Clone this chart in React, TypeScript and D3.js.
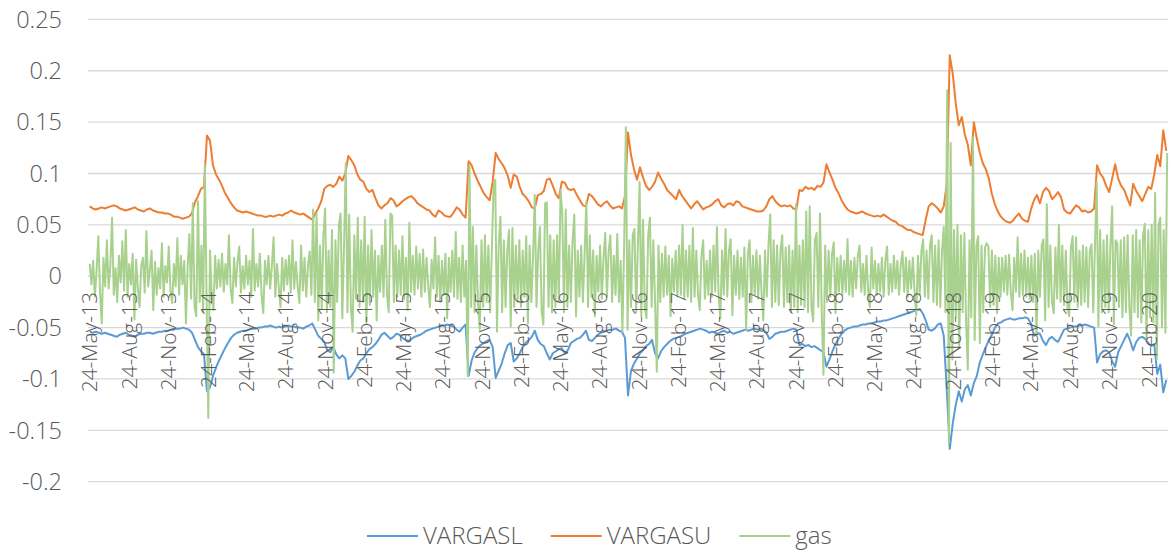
import { useEffect, useRef } from 'react';
import * as d3 from 'd3';

// weekly VaR bands and 4-day sampled gas returns, starting 24-May-13
const seriesStart = '2013-05-24';
const varStepDays = 7;
const gasStepDays = 4;

const xTickLabels = [
  '24-May-13', '24-Aug-13', '24-Nov-13', '24-Feb-14', '24-May-14', '24-Aug-14', '24-Nov-14',
  '24-Feb-15', '24-May-15', '24-Aug-15', '24-Nov-15', '24-Feb-16', '24-May-16', '24-Aug-16',
  '24-Nov-16', '24-Feb-17', '24-May-17', '24-Aug-17', '24-Nov-17', '24-Feb-18', '24-May-18',
  '24-Aug-18', '24-Nov-18', '24-Feb-19', '24-May-19', '24-Aug-19', '24-Nov-19', '24-Feb-20',
];
const yTicks = [-0.2, -0.15, -0.1, -0.05, 0, 0.05, 0.1, 0.15, 0.2, 0.25];

const vargasl = [
  -0.054, -0.055, -0.054, -0.055, -0.056, -0.055, -0.056, -0.057, -0.058, -0.059,
  -0.057, -0.056, -0.055, -0.057, -0.058, -0.059, -0.057, -0.056, -0.056, -0.055,
  -0.055, -0.056, -0.055, -0.054, -0.054, -0.053, -0.053, -0.052, -0.052, -0.051,
  -0.051, -0.050, -0.051, -0.052, -0.055, -0.062, -0.069, -0.073, -0.076, -0.112,
  -0.108, -0.097, -0.089, -0.082, -0.076, -0.070, -0.065, -0.060, -0.057, -0.055,
  -0.054, -0.053, -0.053, -0.052, -0.051, -0.051, -0.050, -0.050, -0.049, -0.049,
  -0.048, -0.049, -0.050, -0.049, -0.050, -0.049, -0.048, -0.049, -0.049, -0.050,
  -0.050, -0.051, -0.049, -0.048, -0.046, -0.052, -0.058, -0.061, -0.064, -0.072,
  -0.074, -0.069, -0.076, -0.080, -0.077, -0.080, -0.100, -0.097, -0.093, -0.087,
  -0.082, -0.080, -0.075, -0.071, -0.069, -0.066, -0.062, -0.057, -0.055, -0.058,
  -0.061, -0.059, -0.056, -0.057, -0.060, -0.062, -0.063, -0.061, -0.059, -0.058,
  -0.057, -0.055, -0.053, -0.052, -0.051, -0.050, -0.049, -0.048, -0.048, -0.047,
  -0.048, -0.049, -0.052, -0.054, -0.050, -0.047, -0.097, -0.082, -0.074, -0.070,
  -0.067, -0.065, -0.063, -0.062, -0.069, -0.099, -0.092, -0.085, -0.075, -0.067,
  -0.065, -0.083, -0.080, -0.075, -0.069, -0.065, -0.062, -0.059, -0.053, -0.062,
  -0.066, -0.068, -0.075, -0.081, -0.075, -0.073, -0.071, -0.070, -0.075, -0.072,
  -0.065, -0.063, -0.061, -0.060, -0.057, -0.053, -0.062, -0.063, -0.060, -0.057,
  -0.055, -0.054, -0.053, -0.052, -0.052, -0.051, -0.053, -0.054, -0.060, -0.116,
  -0.092, -0.085, -0.080, -0.075, -0.072, -0.068, -0.066, -0.062, -0.075, -0.080,
  -0.073, -0.069, -0.066, -0.063, -0.061, -0.060, -0.059, -0.058, -0.056, -0.055,
  -0.054, -0.053, -0.052, -0.051, -0.052, -0.053, -0.055, -0.054, -0.055, -0.056,
  -0.054, -0.053, -0.055, -0.054, -0.056, -0.055, -0.054, -0.053, -0.052, -0.053,
  -0.052, -0.051, -0.052, -0.051, -0.052, -0.055, -0.061, -0.059, -0.056, -0.055,
  -0.054, -0.054, -0.053, -0.052, -0.051, -0.052, -0.067, -0.066, -0.068, -0.067,
  -0.069, -0.068, -0.070, -0.072, -0.074, -0.088, -0.081, -0.073, -0.066, -0.061,
  -0.056, -0.053, -0.051, -0.050, -0.049, -0.049, -0.048, -0.047, -0.047, -0.046,
  -0.046, -0.045, -0.044, -0.044, -0.043, -0.043, -0.042, -0.041, -0.040, -0.039,
  -0.038, -0.037, -0.036, -0.035, -0.034, -0.033, -0.032, -0.036, -0.043, -0.052,
  -0.053, -0.051, -0.047, -0.046, -0.058, -0.110, -0.168, -0.143, -0.125, -0.112,
  -0.122, -0.110, -0.106, -0.116, -0.104, -0.097, -0.084, -0.076, -0.069, -0.062,
  -0.057, -0.050, -0.046, -0.045, -0.043, -0.042, -0.041, -0.042, -0.042, -0.041,
  -0.041, -0.040, -0.041, -0.046, -0.058, -0.055, -0.056, -0.063, -0.067, -0.061,
  -0.059, -0.062, -0.064, -0.058, -0.052, -0.051, -0.050, -0.049, -0.049, -0.048,
  -0.048, -0.047, -0.048, -0.049, -0.050, -0.084, -0.076, -0.073, -0.072, -0.074,
  -0.083, -0.088, -0.074, -0.068, -0.062, -0.056, -0.063, -0.072, -0.064, -0.060,
  -0.059, -0.061, -0.065, -0.068, -0.066, -0.095, -0.086, -0.113, -0.101,
];

const vargasu = [
  0.068, 0.066, 0.065, 0.066, 0.067, 0.066, 0.067, 0.068, 0.069, 0.068,
  0.066, 0.065, 0.064, 0.065, 0.066, 0.067, 0.065, 0.064, 0.063, 0.065,
  0.066, 0.064, 0.063, 0.062, 0.062, 0.061, 0.061, 0.060, 0.058, 0.058,
  0.057, 0.056, 0.057, 0.058, 0.061, 0.072, 0.078, 0.085, 0.087, 0.137,
  0.132, 0.108, 0.099, 0.094, 0.088, 0.081, 0.076, 0.071, 0.067, 0.064,
  0.063, 0.062, 0.063, 0.062, 0.061, 0.060, 0.059, 0.059, 0.058, 0.058,
  0.059, 0.058, 0.059, 0.060, 0.059, 0.061, 0.062, 0.064, 0.062, 0.061,
  0.060, 0.061, 0.059, 0.057, 0.055, 0.061, 0.066, 0.073, 0.085, 0.088,
  0.089, 0.087, 0.090, 0.097, 0.093, 0.100, 0.117, 0.113, 0.108, 0.099,
  0.094, 0.092, 0.085, 0.082, 0.084, 0.076, 0.069, 0.066, 0.069, 0.071,
  0.076, 0.074, 0.068, 0.070, 0.073, 0.075, 0.077, 0.078, 0.075, 0.071,
  0.069, 0.067, 0.065, 0.064, 0.060, 0.058, 0.064, 0.062, 0.059, 0.058,
  0.058, 0.062, 0.067, 0.065, 0.060, 0.057, 0.112, 0.108, 0.100, 0.093,
  0.087, 0.081, 0.077, 0.074, 0.092, 0.120, 0.114, 0.110, 0.105, 0.098,
  0.086, 0.099, 0.097, 0.087, 0.080, 0.077, 0.073, 0.067, 0.066, 0.079,
  0.080, 0.083, 0.094, 0.095, 0.088, 0.080, 0.076, 0.092, 0.091, 0.085,
  0.084, 0.085, 0.079, 0.074, 0.069, 0.068, 0.080, 0.078, 0.074, 0.070,
  0.068, 0.071, 0.073, 0.069, 0.066, 0.067, 0.068, 0.066, 0.078, 0.140,
  0.118, 0.104, 0.094, 0.106, 0.096, 0.088, 0.084, 0.087, 0.092, 0.101,
  0.095, 0.090, 0.084, 0.081, 0.078, 0.075, 0.084, 0.078, 0.074, 0.070,
  0.066, 0.070, 0.073, 0.069, 0.065, 0.067, 0.068, 0.070, 0.073, 0.075,
  0.069, 0.067, 0.070, 0.071, 0.069, 0.073, 0.072, 0.068, 0.067, 0.066,
  0.065, 0.064, 0.063, 0.063, 0.064, 0.068, 0.075, 0.078, 0.073, 0.070,
  0.068, 0.069, 0.068, 0.069, 0.066, 0.065, 0.084, 0.083, 0.087, 0.085,
  0.086, 0.084, 0.088, 0.087, 0.091, 0.109, 0.101, 0.094, 0.086, 0.081,
  0.074, 0.069, 0.065, 0.063, 0.062, 0.061, 0.062, 0.063, 0.061, 0.060,
  0.059, 0.058, 0.059, 0.058, 0.060, 0.058, 0.056, 0.054, 0.053, 0.050,
  0.049, 0.047, 0.045, 0.045, 0.043, 0.042, 0.041, 0.040, 0.055, 0.068,
  0.071, 0.069, 0.066, 0.062, 0.068, 0.090, 0.215, 0.197, 0.168, 0.147,
  0.155, 0.138, 0.128, 0.108, 0.150, 0.134, 0.120, 0.110, 0.104, 0.095,
  0.080, 0.070, 0.063, 0.058, 0.055, 0.053, 0.052, 0.054, 0.058, 0.061,
  0.056, 0.054, 0.053, 0.065, 0.074, 0.079, 0.071, 0.082, 0.086, 0.083,
  0.075, 0.078, 0.082, 0.077, 0.065, 0.062, 0.061, 0.065, 0.069, 0.067,
  0.063, 0.064, 0.062, 0.063, 0.066, 0.108, 0.100, 0.096, 0.088, 0.082,
  0.095, 0.109, 0.095, 0.088, 0.084, 0.076, 0.069, 0.090, 0.083, 0.078,
  0.073, 0.080, 0.087, 0.085, 0.099, 0.118, 0.107, 0.142, 0.122,
];

const gas = [
  0.012, -0.008, 0.015, -0.020, 0.006, 0.039, -0.015, -0.046, 0.018, -0.010,
  0.035, -0.012, 0.010, 0.057, -0.018, 0.008, -0.025, 0.020, -0.006, 0.034,
  -0.014, 0.045, -0.020, 0.012, -0.008, 0.022, -0.042, 0.016, -0.012, -0.030,
  0.010, 0.018, -0.016, 0.044, -0.010, 0.006, 0.025, -0.033, 0.014, -0.018,
  0.008, -0.012, 0.032, -0.020, 0.010, -0.006, 0.029, -0.015, -0.026, 0.012,
  -0.010, 0.037, -0.018, 0.020, -0.008, 0.015, -0.046, 0.010, 0.041, -0.022,
  0.071, -0.030, -0.039, 0.073, -0.025, 0.030, -0.035, 0.108, -0.020, -0.138,
  0.025, -0.018, -0.033, 0.020, -0.012, 0.016, -0.010, 0.022, -0.015, 0.012,
  -0.008, 0.040, -0.012, -0.026, 0.018, -0.010, 0.014, 0.029, -0.016, 0.010,
  -0.012, 0.020, -0.008, 0.015, -0.020, 0.046, -0.014, 0.012, -0.010, 0.022,
  -0.018, -0.036, 0.015, -0.008, 0.020, -0.012, 0.010, 0.038, -0.020, 0.012,
  -0.010, -0.030, 0.018, -0.014, 0.016, -0.008, 0.020, -0.016, 0.035, -0.012,
  0.014, -0.010, -0.026, 0.030, -0.014, 0.018, -0.020, 0.010, 0.024, -0.018,
  0.065, -0.025, 0.061, -0.043, 0.030, -0.032, 0.040, 0.066, -0.035, 0.025,
  -0.030, 0.045, -0.094, 0.035, -0.025, 0.050, 0.061, -0.041, 0.030, 0.110,
  -0.035, 0.060, -0.030, -0.054, 0.040, -0.022, 0.057, -0.030, 0.035, -0.025,
  0.058, -0.046, 0.030, -0.028, 0.045, -0.020, 0.025, -0.043, 0.020, -0.015,
  0.030, -0.020, 0.055, -0.018, -0.035, 0.061, 0.059, -0.025, 0.030, -0.020,
  0.025, -0.018, 0.039, -0.022, 0.018, -0.033, 0.052, -0.015, 0.020, -0.018,
  0.029, -0.012, 0.022, -0.020, 0.026, -0.015, 0.018, -0.010, -0.030, 0.016,
  -0.012, 0.038, -0.020, 0.020, -0.025, 0.015, -0.018, 0.022, -0.041, 0.018,
  -0.015, 0.025, -0.020, 0.043, -0.022, 0.018, -0.025, 0.030, -0.020, 0.015,
  -0.097, 0.107, -0.030, 0.048, -0.035, 0.030, -0.028, -0.052, 0.035, -0.030,
  0.040, -0.025, 0.030, -0.035, 0.025, 0.086, 0.094, -0.054, 0.030, 0.058,
  -0.035, 0.035, -0.030, 0.025, 0.045, -0.049, 0.047, -0.030, 0.030, -0.025,
  0.035, -0.030, 0.025, -0.020, 0.039, -0.046, 0.030, -0.025, 0.020, 0.079,
  -0.030, 0.025, 0.048, -0.035, -0.047, 0.071, 0.072, -0.030, 0.040, -0.035,
  0.035, -0.030, 0.040, -0.025, 0.084, 0.061, -0.035, 0.065, -0.030, 0.030,
  -0.025, 0.035, 0.060, -0.039, 0.025, -0.020, 0.030, -0.025, 0.022, 0.073,
  -0.030, 0.040, -0.020, 0.025, -0.039, 0.020, -0.015, 0.030, -0.022, 0.018,
  0.042, -0.020, 0.025, 0.040, -0.025, 0.020, -0.018, 0.041, -0.025, 0.015,
  -0.054, 0.030, 0.145, -0.052, 0.035, -0.030, 0.040, 0.046, -0.035, 0.030,
  0.092, -0.039, 0.055, -0.030, -0.041, 0.040, 0.057, -0.030, 0.035, -0.025,
  -0.093, 0.030, -0.025, 0.022, -0.020, 0.029, -0.018, 0.020, -0.039, 0.017,
  -0.015, 0.025, -0.020, 0.030, -0.018, 0.050, -0.022, 0.025, -0.020, 0.030,
  -0.025, 0.047, -0.020, 0.025, -0.018, -0.033, 0.020, 0.035, -0.022, 0.015,
  -0.018, 0.025, -0.020, 0.030, -0.015, 0.048, -0.020, -0.041, 0.025, -0.018,
  0.046, -0.020, 0.025, 0.036, -0.038, 0.020, -0.018, 0.025, -0.022, 0.018,
  -0.020, 0.028, -0.052, 0.022, 0.035, -0.025, 0.020, -0.018, 0.025, -0.022,
  0.020, -0.018, -0.043, 0.025, -0.020, 0.030, 0.060, -0.030, 0.035, -0.025,
  0.030, -0.028, 0.025, 0.040, -0.030, 0.028, -0.025, 0.030, -0.035, 0.025,
  -0.030, 0.070, -0.035, 0.030, -0.028, 0.035, -0.030, 0.063, -0.035, 0.068,
  -0.030, -0.044, 0.035, 0.042, -0.030, 0.061, -0.035, -0.096, 0.030, -0.025,
  0.025, -0.020, 0.022, 0.033, -0.036, 0.018, -0.015, 0.020, -0.018, 0.015,
  -0.015, 0.036, -0.018, 0.015, -0.020, 0.018, -0.012, 0.020, 0.030, -0.015,
  0.012, -0.018, 0.020, -0.015, -0.030, 0.028, -0.012, 0.015, -0.018, 0.012,
  -0.015, 0.018, -0.020, 0.015, 0.029, -0.018, 0.012, -0.015, 0.020, -0.012,
  0.015, -0.018, 0.012, 0.024, -0.015, 0.018, -0.020, 0.015, -0.012, 0.018,
  -0.015, -0.038, 0.020, -0.018, 0.025, 0.036, -0.020, 0.025, -0.022, 0.030,
  0.040, -0.025, 0.030, -0.028, 0.035, -0.030, 0.025, 0.048, -0.035, 0.181,
  -0.162, 0.130, -0.081, 0.045, -0.040, 0.050, -0.068, 0.040, -0.035, 0.042,
  -0.045, -0.091, 0.035, -0.040, 0.135, -0.062, 0.030, 0.039, -0.065, 0.030,
  -0.035, 0.028, 0.032, 0.029, -0.030, 0.025, -0.028, 0.020, -0.036, 0.018,
  -0.020, 0.018, -0.015, 0.020, -0.018, 0.021, -0.015, -0.033, 0.018, -0.015,
  0.038, -0.020, 0.022, -0.018, 0.025, -0.020, 0.018, -0.022, 0.020, -0.025,
  0.022, -0.058, 0.025, -0.020, 0.030, 0.036, -0.043, 0.070, -0.030, 0.030,
  -0.025, -0.036, 0.028, -0.022, 0.050, -0.025, 0.030, -0.028, 0.025, -0.030,
  -0.039, 0.028, 0.039, -0.025, 0.038, -0.030, 0.025, -0.028, 0.030, -0.025,
  0.028, -0.030, 0.025, 0.031, -0.035, 0.030, 0.092, -0.049, 0.045, -0.035,
  0.035, -0.030, 0.040, -0.035, 0.030, 0.068, -0.047, 0.035, 0.032, -0.030,
  0.035, -0.040, 0.038, -0.035, 0.040, -0.030, -0.058, 0.040, -0.035, 0.045,
  -0.040, 0.035, -0.045, 0.040, 0.051, -0.063, 0.045, -0.040, 0.050, -0.045,
  0.081, -0.081, 0.050, 0.057, -0.050, 0.045, -0.055, 0.120,
];

const seriesNames = ['VARGASL', 'VARGASU', 'gas'];
const seriesColors = ['#5B9BD5', '#ED7D31', '#A9D18E'];

export default function App() {
  const svgRef = useRef<SVGSVGElement>(null);

  useEffect(() => {
    if (!svgRef.current) return;
    const svg = d3.select(svgRef.current);
    svg.selectAll('*').remove();

    const font = '"Open Sans", "Segoe UI", sans-serif';
    const textColor = '#595959';
    const plot = { left: 88, right: 1168, top: 19.4, bottom: 481.7 };

    const start = d3.utcParse('%Y-%m-%d')(seriesStart)!;
    const parseTick = d3.utcParse('%d-%b-%y');

    const x = d3.scaleUtc()
      .domain([d3.utcDay.offset(start, -4), d3.utcDay.offset(start, 2510)])
      .range([plot.left, plot.right]);

    const y = d3.scaleLinear()
      .domain([-0.2, 0.25])
      .range([plot.bottom, plot.top]);

    // Gridlines
    svg.append('g')
      .selectAll('line')
      .data(yTicks)
      .enter().append('line')
      .attr('x1', plot.left)
      .attr('x2', plot.right)
      .attr('y1', d => y(d))
      .attr('y2', d => y(d))
      .attr('stroke', '#D9D9D9')
      .attr('stroke-width', 1.3);

    // Y labels
    svg.append('g')
      .selectAll('text')
      .data(yTicks)
      .enter().append('text')
      .attr('x', 62)
      .attr('y', d => y(d))
      .attr('dy', '0.35em')
      .attr('text-anchor', 'end')
      .style('font-family', font)
      .style('font-size', '23.5px')
      .style('font-weight', 300)
      .style('fill', textColor)
      .text(d => String(+d.toFixed(2)));

    // Series
    const allSeries = [
      { values: vargasl, step: varStepDays },
      { values: vargasu, step: varStepDays },
      { values: gas, step: gasStepDays },
    ];

    allSeries.forEach((s, k) => {
      const line = d3.line<number>()
        .x((_, i) => x(d3.utcDay.offset(start, i * s.step)))
        .y(d => y(d));
      svg.append('path')
        .datum(s.values)
        .attr('fill', 'none')
        .attr('stroke', seriesColors[k])
        .attr('stroke-width', 2)
        .attr('stroke-linejoin', 'round')
        .attr('d', line);
    });

    // X labels, rotated, hanging below the zero line
    svg.append('g')
      .selectAll('text')
      .data(xTickLabels)
      .enter().append('text')
      .attr('transform', d => `translate(${x(parseTick(d)!)},292) rotate(-90)`)
      .attr('text-anchor', 'end')
      .attr('dy', '0.35em')
      .style('font-family', font)
      .style('font-size', '21px')
      .style('font-weight', 300)
      .style('fill', textColor)
      .text(d => d);

    // Legend
    const legend = svg.append('g');
    let lx = 367;
    seriesNames.forEach((name, k) => {
      legend.append('line')
        .attr('x1', lx)
        .attr('x2', lx + 51)
        .attr('y1', 536)
        .attr('y2', 536)
        .attr('stroke', seriesColors[k])
        .attr('stroke-width', 2);
      const t = legend.append('text')
        .attr('x', lx + 56)
        .attr('y', 536)
        .attr('dy', '0.35em')
        .style('font-family', font)
        .style('font-size', '24px')
        .style('font-weight', 300)
        .style('fill', textColor)
        .text(name);
      const w = (t.node() as SVGTextElement).getComputedTextLength();
      lx += 56 + w + 28;
    });
  }, []);

  return (
    <svg
      ref={svgRef}
      width={1171}
      height={552}
      style={{ position: 'absolute', left: 0, top: 0, background: '#fff' }}
    />
  );
}
